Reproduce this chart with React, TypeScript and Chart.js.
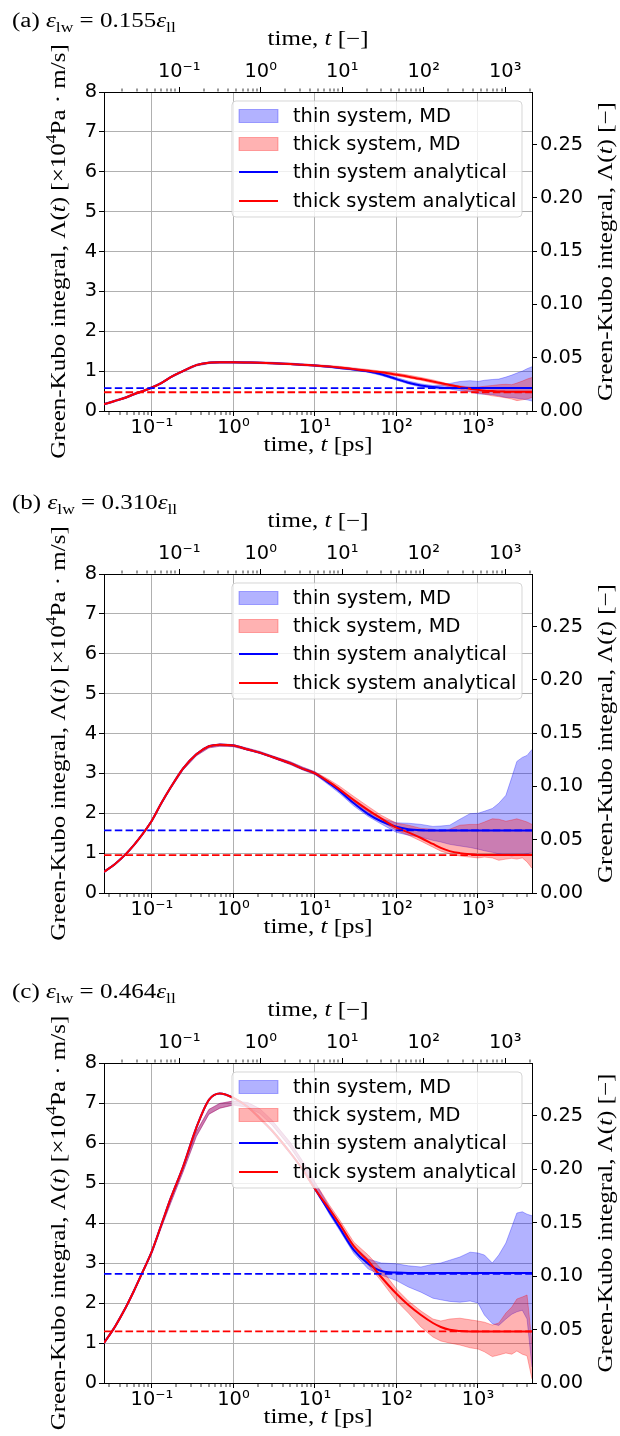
import React, { useEffect, useRef } from "react";
import { Chart, registerables } from "chart.js";

Chart.register(...registerables);

// ---------------- data ----------------
// common sampling times [ps]
const TIME = [
  0.0258, 0.035, 0.048, 0.06, 0.075, 0.1, 0.13, 0.17, 0.24, 0.35, 0.5, 0.68, 1, 1.5, 2.1, 3, 5, 7, 10, 15, 20,
  30, 45, 65, 100, 140, 200, 280, 350, 450, 600, 800, 1000, 1200, 1500, 1800, 2200, 2600, 3000, 3500, 4000, 4600,
];
const X_MIN = 0.0258;
const X_MAX = 4600;
const TAU_PS = 2.16; // LJ time unit in ps (top axis)
const RIGHT_MAX = 8 / 26.72; // dimensionless value at top of left axis
const Y_TICKS = [0, 1, 2, 3, 4, 5, 6, 7, 8];
const RIGHT_TICKS = [0, 0.05, 0.1, 0.15, 0.2, 0.25];

const PANEL_LABELS = ["(a)", "(b)", "(c)"];
const EPS_VALUES = ["0.155", "0.310", "0.464"];
const LEGEND_LABELS = ["thin system, MD", "thick system, MD", "thin system analytical", "thick system analytical"];

// panel (a)
const A_THIN_FIT = [0.17, 0.25, 0.34, 0.42, 0.49, 0.59, 0.7, 0.85, 1.0, 1.15, 1.21, 1.22, 1.22, 1.215, 1.21, 1.2, 1.18, 1.16, 1.14, 1.11, 1.08, 1.04, 0.99, 0.92, 0.8, 0.71, 0.64, 0.6, 0.585, 0.578, 0.576, 0.575, 0.575, 0.575, 0.575, 0.575, 0.575, 0.575, 0.575, 0.575, 0.575, 0.575];
const A_THICK_FIT = [0.17, 0.25, 0.34, 0.42, 0.49, 0.59, 0.7, 0.85, 1.0, 1.15, 1.21, 1.22, 1.22, 1.215, 1.21, 1.2, 1.18, 1.16, 1.14, 1.115, 1.09, 1.05, 1.01, 0.97, 0.91, 0.86, 0.8, 0.74, 0.7, 0.65, 0.6, 0.56, 0.53, 0.51, 0.5, 0.49, 0.485, 0.482, 0.48, 0.48, 0.48, 0.48];
const A_THIN_HI = [0.19, 0.27, 0.36, 0.44, 0.51, 0.61, 0.72, 0.87, 1.02, 1.17, 1.23, 1.24, 1.24, 1.235, 1.23, 1.22, 1.2, 1.18, 1.16, 1.13, 1.1, 1.06, 1.01, 0.95, 0.84, 0.75, 0.68, 0.64, 0.65, 0.69, 0.74, 0.76, 0.74, 0.77, 0.79, 0.8, 0.85, 0.9, 0.95, 1.0, 1.06, 1.11];
const A_THIN_LO = [0.16, 0.24, 0.32, 0.4, 0.47, 0.57, 0.68, 0.83, 0.98, 1.13, 1.19, 1.2, 1.2, 1.195, 1.19, 1.18, 1.16, 1.14, 1.12, 1.09, 1.06, 1.02, 0.97, 0.89, 0.77, 0.68, 0.6, 0.56, 0.55, 0.55, 0.51, 0.48, 0.43, 0.42, 0.41, 0.38, 0.34, 0.34, 0.32, 0.3, 0.28, 0.25];
const A_THICK_HI = [0.19, 0.27, 0.36, 0.44, 0.51, 0.61, 0.72, 0.87, 1.02, 1.17, 1.23, 1.24, 1.24, 1.235, 1.23, 1.22, 1.2, 1.18, 1.16, 1.14, 1.12, 1.08, 1.04, 1.0, 0.95, 0.9, 0.84, 0.78, 0.73, 0.67, 0.63, 0.6, 0.6, 0.62, 0.64, 0.66, 0.67, 0.66, 0.7, 0.75, 0.8, 0.84];
const A_THICK_LO = [0.16, 0.24, 0.32, 0.4, 0.47, 0.57, 0.68, 0.83, 0.98, 1.13, 1.19, 1.2, 1.2, 1.195, 1.19, 1.18, 1.16, 1.14, 1.12, 1.1, 1.07, 1.03, 0.99, 0.94, 0.88, 0.83, 0.77, 0.7, 0.66, 0.6, 0.55, 0.48, 0.45, 0.42, 0.38, 0.36, 0.33, 0.3, 0.26, 0.28, 0.3, 0.34];
const A_PLATEAU_THIN = 0.575;
const A_PLATEAU_THICK = 0.47;

// panel (b)
const B_THIN_FIT = [0.53, 0.72, 0.98, 1.2, 1.45, 1.82, 2.25, 2.65, 3.12, 3.48, 3.68, 3.72, 3.7, 3.6, 3.52, 3.41, 3.25, 3.12, 3.0, 2.75, 2.56, 2.25, 1.98, 1.8, 1.66, 1.6, 1.575, 1.57, 1.57, 1.57, 1.57, 1.57, 1.57, 1.57, 1.57, 1.57, 1.57, 1.57, 1.57, 1.57, 1.57, 1.57];
const B_THICK_FIT = [0.53, 0.72, 0.98, 1.2, 1.45, 1.82, 2.25, 2.65, 3.12, 3.48, 3.68, 3.72, 3.7, 3.6, 3.52, 3.41, 3.25, 3.12, 3.0, 2.78, 2.6, 2.33, 2.08, 1.87, 1.64, 1.52, 1.38, 1.23, 1.13, 1.05, 1.0, 0.97, 0.955, 0.95, 0.95, 0.95, 0.95, 0.95, 0.95, 0.95, 0.95, 0.95];
const B_THIN_HI = [0.55, 0.74, 1.0, 1.22, 1.47, 1.84, 2.27, 2.67, 3.14, 3.5, 3.7, 3.74, 3.72, 3.63, 3.55, 3.44, 3.29, 3.16, 3.04, 2.8, 2.62, 2.32, 2.06, 1.87, 1.76, 1.75, 1.72, 1.67, 1.68, 1.7, 1.85, 1.99, 2.0, 2.05, 2.12, 2.25, 2.45, 2.9, 3.3, 3.4, 3.45, 3.6];
const B_THIN_LO = [0.51, 0.7, 0.96, 1.18, 1.43, 1.8, 2.22, 2.62, 3.08, 3.44, 3.64, 3.68, 3.67, 3.58, 3.5, 3.39, 3.22, 3.09, 2.97, 2.7, 2.5, 2.18, 1.92, 1.73, 1.52, 1.45, 1.4, 1.32, 1.28, 1.22, 1.18, 1.14, 1.1, 1.06, 1.02, 0.98, 0.95, 0.93, 0.95, 0.96, 0.98, 1.02];
const B_THICK_HI = [0.55, 0.74, 1.0, 1.22, 1.47, 1.84, 2.27, 2.67, 3.14, 3.5, 3.7, 3.74, 3.72, 3.63, 3.55, 3.44, 3.29, 3.16, 3.04, 2.84, 2.68, 2.42, 2.17, 1.95, 1.75, 1.7, 1.62, 1.6, 1.55, 1.6, 1.7, 1.72, 1.72, 1.78, 1.86, 1.85, 1.8, 1.83, 1.86, 1.82, 1.78, 1.72];
const B_THICK_LO = [0.51, 0.7, 0.96, 1.18, 1.43, 1.8, 2.22, 2.62, 3.08, 3.44, 3.64, 3.68, 3.67, 3.58, 3.5, 3.39, 3.22, 3.09, 2.97, 2.74, 2.56, 2.28, 2.01, 1.8, 1.57, 1.45, 1.3, 1.15, 1.05, 0.98, 0.93, 0.9, 0.88, 0.9, 0.88, 0.82, 0.85, 0.87, 0.85, 0.88, 0.78, 0.62];
const B_PLATEAU_THIN = 1.57;
const B_PLATEAU_THICK = 0.95;

// panel (c)
const C_THIN_FIT = [1.0, 1.4, 1.9, 2.3, 2.73, 3.3, 3.95, 4.62, 5.4, 6.38, 7.08, 7.24, 7.13, 6.9, 6.62, 6.3, 5.75, 5.35, 4.85, 4.28, 3.88, 3.32, 2.98, 2.8, 2.76, 2.75, 2.75, 2.75, 2.75, 2.75, 2.75, 2.75, 2.75, 2.75, 2.75, 2.75, 2.75, 2.75, 2.75, 2.75, 2.75, 2.75];
const C_THICK_FIT = [1.0, 1.4, 1.9, 2.3, 2.73, 3.3, 3.95, 4.62, 5.4, 6.38, 7.08, 7.24, 7.13, 6.9, 6.62, 6.3, 5.75, 5.35, 4.85, 4.35, 3.98, 3.42, 3.05, 2.65, 2.23, 1.95, 1.7, 1.5, 1.4, 1.33, 1.3, 1.29, 1.29, 1.29, 1.29, 1.29, 1.29, 1.29, 1.29, 1.29, 1.29, 1.29];
const C_THIN_HI = [1.03, 1.43, 1.93, 2.33, 2.76, 3.32, 3.96, 4.6, 5.37, 6.28, 6.84, 6.99, 7.05, 7.01, 6.86, 6.56, 6.01, 5.56, 5.02, 4.4, 4.0, 3.42, 3.1, 3.0, 2.98, 2.93, 2.9, 2.97, 3.0, 3.07, 3.15, 3.27, 3.25, 3.2, 3.0, 3.2, 3.5, 3.9, 4.25, 4.28, 4.22, 4.18];
const C_THIN_LO = [0.97, 1.37, 1.87, 2.27, 2.7, 3.24, 3.88, 4.5, 5.27, 6.16, 6.72, 6.87, 6.95, 6.89, 6.74, 6.44, 5.89, 5.44, 4.88, 4.22, 3.82, 3.24, 2.85, 2.7, 2.56, 2.4, 2.27, 2.12, 2.08, 2.04, 2.02, 2.05, 2.0, 1.7, 1.48, 1.44, 1.6, 1.72, 1.78, 1.82, 1.6, 0.4];
const C_THICK_HI = [1.03, 1.43, 1.93, 2.33, 2.76, 3.32, 3.96, 4.6, 5.37, 6.28, 6.84, 6.99, 7.05, 7.01, 6.86, 6.56, 6.01, 5.56, 5.02, 4.45, 4.08, 3.52, 3.2, 2.85, 2.35, 2.05, 1.8, 1.6, 1.55, 1.6, 1.62, 1.58, 1.55, 1.52, 1.45, 1.5, 1.75, 1.9, 2.1, 2.15, 2.2, 1.0];
const C_THICK_LO = [0.97, 1.37, 1.87, 2.27, 2.7, 3.24, 3.88, 4.5, 5.27, 6.16, 6.72, 6.87, 6.95, 6.89, 6.74, 6.44, 5.89, 5.44, 4.88, 4.28, 3.9, 3.35, 2.95, 2.55, 2.05, 1.75, 1.4, 1.15, 1.05, 1.0, 0.95, 0.88, 0.85, 0.78, 0.66, 0.7, 0.75, 0.72, 0.8, 0.72, 0.68, 0.1];
const C_PLATEAU_THIN = 2.73;
const C_PLATEAU_THICK = 1.29;

const SERIES = [
  { thinFit: A_THIN_FIT, thickFit: A_THICK_FIT, thinHi: A_THIN_HI, thinLo: A_THIN_LO, thickHi: A_THICK_HI, thickLo: A_THICK_LO, thinPlateau: A_PLATEAU_THIN, thickPlateau: A_PLATEAU_THICK },
  { thinFit: B_THIN_FIT, thickFit: B_THICK_FIT, thinHi: B_THIN_HI, thinLo: B_THIN_LO, thickHi: B_THICK_HI, thickLo: B_THICK_LO, thinPlateau: B_PLATEAU_THIN, thickPlateau: B_PLATEAU_THICK },
  { thinFit: C_THIN_FIT, thickFit: C_THICK_FIT, thinHi: C_THIN_HI, thinLo: C_THIN_LO, thickHi: C_THICK_HI, thickLo: C_THICK_LO, thinPlateau: C_PLATEAU_THIN, thickPlateau: C_PLATEAU_THICK },
];

// ---------------- layout & style ----------------
const LAYOUT = [
  { top: 0, height: 482, plotH: 319 },
  { top: 482, height: 489, plotH: 319 },
  { top: 971, height: 465, plotH: 320 },
];
const W = 620;
const PLOT_LEFT = 104;
const PLOT_RIGHT = 532;
const PLOT_TOP = 92;

const SANS = '"DejaVu Sans", sans-serif';
const SERIF = '"Liberation Serif", "Times New Roman", serif';
const TICK_SIZE = 19.4;
const LABEL_SIZE = 20.5;
const SERIF_STRETCH = 1.22; // widen Times-like glyphs towards Computer Modern proportions
const GRID = "#b0b0b0";
const BLUE = "#0000ff";
const RED = "#ff0000";
const BLUE_BAND = "rgba(0,0,255,0.3)";
const RED_BAND = "rgba(255,0,0,0.3)";

const SUP: Record<string, string> = { "-": "\u207B", "0": "\u2070", "1": "\u00B9", "2": "\u00B2", "3": "\u00B3", "4": "\u2074", "5": "\u2075" };

function isDecade(v: number) {
  const e = Math.round(Math.log10(v));
  return Math.abs(v / Math.pow(10, e) - 1) < 1e-6;
}
function decadeLabel(v: number) {
  const e = String(Math.round(Math.log10(v)));
  return "10" + e.split("").map((c) => SUP[c] || c).join("");
}
function logTicks(min: number, max: number) {
  const out: { value: number }[] = [];
  for (let e = -3; e <= 5; e++) {
    for (let k = 1; k <= 9; k++) {
      const v = k * Math.pow(10, e);
      if (v >= min && v <= max) out.push({ value: v });
    }
  }
  return out;
}

type Seg = { t: string; it?: boolean; sup?: boolean; sub?: boolean };
function segFont(s: Seg, size: number) {
  const sz = s.sup || s.sub ? size * 0.7 : size;
  return `${s.it ? "italic " : ""}${sz}px ${SERIF}`;
}
function drawRich(ctx: CanvasRenderingContext2D, segs: Seg[], x: number, y: number, align: "left" | "center", size: number) {
  let w = 0;
  for (const s of segs) {
    ctx.font = segFont(s, size);
    w += ctx.measureText(s.t).width;
  }
  const x0 = align === "center" ? x - (w * SERIF_STRETCH) / 2 : x;
  ctx.save();
  ctx.translate(x0, y);
  ctx.scale(SERIF_STRETCH, 1);
  ctx.textAlign = "left";
  ctx.textBaseline = "alphabetic";
  ctx.fillStyle = "#000";
  let cx = 0;
  for (const s of segs) {
    ctx.font = segFont(s, size);
    const dy = s.sup ? -size * 0.42 : s.sub ? size * 0.22 : 0;
    ctx.fillText(s.t, cx, dy);
    cx += ctx.measureText(s.t).width;
  }
  ctx.restore();
}

const LEFT_LABEL: Seg[] = [{ t: "Green-Kubo integral, \u039B(" }, { t: "t", it: true }, { t: ") [\u00D710" }, { t: "4", sup: true }, { t: "Pa \u00B7 m/s]" }];
const RIGHT_LABEL: Seg[] = [{ t: "Green-Kubo integral, \u039B(" }, { t: "t", it: true }, { t: ") [\u2212]" }];
const TOP_LABEL: Seg[] = [{ t: "time, " }, { t: "t", it: true }, { t: " [\u2212]" }];
const BOTTOM_LABEL: Seg[] = [{ t: "time, " }, { t: "t", it: true }, { t: " [ps]" }];

function roundRect(ctx: CanvasRenderingContext2D, x: number, y: number, w: number, h: number, r: number) {
  ctx.beginPath();
  ctx.moveTo(x + r, y);
  ctx.lineTo(x + w - r, y);
  ctx.arcTo(x + w, y, x + w, y + r, r);
  ctx.lineTo(x + w, y + h - r);
  ctx.arcTo(x + w, y + h, x + w - r, y + h, r);
  ctx.lineTo(x + r, y + h);
  ctx.arcTo(x, y + h, x, y + h - r, r);
  ctx.lineTo(x, y + r);
  ctx.arcTo(x, y, x + r, y, r);
  ctx.closePath();
}

const panelTextPlugin = {
  id: "panelText",
  afterDraw(chart: any, _args: any, opts: any) {
    const ctx: CanvasRenderingContext2D = chart.ctx;
    const ca = chart.chartArea;
    const idx: number = opts.index;
    const midX = (ca.left + ca.right) / 2;
    const midY = (ca.top + ca.bottom) / 2;
    ctx.save();
    // panel title
    const title: Seg[] = [
      { t: PANEL_LABELS[idx] + " " },
      { t: "\u03B5", it: true },
      { t: "lw", sub: true },
      { t: " = " + EPS_VALUES[idx] },
      { t: "\u03B5", it: true },
      { t: "ll", sub: true },
    ];
    drawRich(ctx, title, 12, ca.top - 65, "left", LABEL_SIZE);
    drawRich(ctx, TOP_LABEL, midX, ca.top - 47, "center", LABEL_SIZE);
    drawRich(ctx, BOTTOM_LABEL, midX, ca.bottom + 40, "center", LABEL_SIZE);
    ctx.save();
    ctx.translate(65, midY);
    ctx.rotate(-Math.PI / 2);
    drawRich(ctx, LEFT_LABEL, 0, 0, "center", LABEL_SIZE);
    ctx.restore();
    ctx.save();
    ctx.translate(612, midY);
    ctx.rotate(-Math.PI / 2);
    drawRich(ctx, RIGHT_LABEL, 0, 0, "center", LABEL_SIZE);
    ctx.restore();

    // legend
    const lx = 232;
    const ly = ca.top + 9;
    const lw = ca.right - 10 - lx;
    const lh = 116;
    roundRect(ctx, lx, ly, lw, lh, 4);
    ctx.fillStyle = "rgba(255,255,255,0.8)";
    ctx.fill();
    ctx.strokeStyle = "rgba(204,204,204,0.8)";
    ctx.lineWidth = 1;
    ctx.stroke();
    const rows = [24, 52, 80, 109];
    const hx = 239;
    const hw = 39;
    ctx.font = `${TICK_SIZE}px ${SANS}`;
    ctx.textBaseline = "middle";
    ctx.textAlign = "left";
    LEGEND_LABELS.forEach((lab, i) => {
      const cy = ca.top + rows[i];
      if (i < 2) {
        const c = i === 0 ? BLUE_BAND : RED_BAND;
        ctx.fillStyle = c;
        ctx.fillRect(hx, cy - 6.5, hw, 13);
        ctx.strokeStyle = c;
        ctx.lineWidth = 1;
        ctx.strokeRect(hx, cy - 6.5, hw, 13);
      } else {
        ctx.strokeStyle = i === 2 ? BLUE : RED;
        ctx.lineWidth = 2;
        ctx.beginPath();
        ctx.moveTo(hx, cy);
        ctx.lineTo(hx + hw, cy);
        ctx.stroke();
      }
      ctx.fillStyle = "#000";
      ctx.fillText(lab, hx + hw + 15, cy + 1);
    });
    ctx.restore();
  },
};

function logAxis(position: "top" | "bottom", min: number, max: number, height: number) {
  const major = (c: any) => !!(c && c.tick && isDecade(c.tick.value));
  return {
    type: "logarithmic",
    position,
    axis: "x",
    min,
    max,
    bounds: "data",
    afterBuildTicks: (s: any) => {
      s.ticks = logTicks(min, max);
    },
    afterFit: (s: any) => {
      s.height = height;
    },
    ticks: {
      autoSkip: false,
      maxRotation: 0,
      minRotation: 0,
      padding: position === "top" ? 3 : 0,
      color: "#000",
      font: { family: SANS, size: TICK_SIZE },
      callback: (v: number) => (isDecade(v) ? decadeLabel(v) : ""),
    },
    grid: {
      drawOnChartArea: position === "bottom",
      color: GRID,
      lineWidth: (c: any) => (major(c) ? 1 : 0),
      tickColor: "#000",
      tickLength: 5,
      tickWidth: (c: any) => (major(c) ? 1 : 0.8),
      tickBorderDash: (c: any) => (major(c) ? [] : position === "bottom" ? [3, 10] : [0, 1.5, 3, 10]),
    },
    border: { display: true, color: "#000", width: 1 },
  };
}

function buildConfig(idx: number) {
  const s = SERIES[idx];
  const lay = LAYOUT[idx];
  const pts = (ys: number[]) => TIME.map((t, i) => ({ x: t, y: ys[i] }));
  const flat = (v: number) => [
    { x: X_MIN, y: v },
    { x: X_MAX, y: v },
  ];
  const base = { xAxisID: "x", yAxisID: "y", pointRadius: 0, pointHoverRadius: 0, tension: 0 };
  const datasets: any[] = [
    { ...base, label: LEGEND_LABELS[0], data: pts(s.thinHi), borderColor: BLUE_BAND, backgroundColor: BLUE_BAND, borderWidth: 1, fill: 1, order: 8 },
    { ...base, label: "thin lower", data: pts(s.thinLo), borderColor: BLUE_BAND, borderWidth: 1, fill: false, order: 8 },
    { ...base, label: LEGEND_LABELS[1], data: pts(s.thickHi), borderColor: RED_BAND, backgroundColor: RED_BAND, borderWidth: 1, fill: 3, order: 6 },
    { ...base, label: "thick lower", data: pts(s.thickLo), borderColor: RED_BAND, borderWidth: 1, fill: false, order: 6 },
    { ...base, label: LEGEND_LABELS[2], data: pts(s.thinFit), borderColor: BLUE, borderWidth: 2, fill: false, cubicInterpolationMode: "monotone", order: 4 },
    { ...base, label: LEGEND_LABELS[3], data: pts(s.thickFit), borderColor: RED, borderWidth: 2, fill: false, cubicInterpolationMode: "monotone", order: 3 },
    { ...base, label: "thin plateau", data: flat(s.thinPlateau), borderColor: BLUE, borderWidth: 1.8, borderDash: [7.5, 3.3], fill: false, order: 2 },
    { ...base, label: "thick plateau", data: flat(s.thickPlateau), borderColor: RED, borderWidth: 1.8, borderDash: [7.5, 3.3], fill: false, order: 1 },
  ];
  const bottomH = lay.height - PLOT_TOP - lay.plotH;
  return {
    type: "line",
    data: { datasets },
    plugins: [panelTextPlugin],
    options: {
      responsive: false,
      maintainAspectRatio: false,
      animation: false,
      devicePixelRatio: 1,
      events: [],
      layout: { padding: 0 },
      plugins: {
        legend: { display: false },
        tooltip: { enabled: false },
        title: { display: false },
        panelText: { index: idx },
      },
      scales: {
        x: logAxis("bottom", X_MIN, X_MAX, bottomH),
        xTop: logAxis("top", X_MIN / TAU_PS, X_MAX / TAU_PS, PLOT_TOP),
        y: {
          type: "linear",
          position: "left",
          axis: "y",
          min: 0,
          max: 8,
          bounds: "data",
          afterBuildTicks: (sc: any) => {
            sc.ticks = Y_TICKS.map((v) => ({ value: v }));
          },
          afterFit: (sc: any) => {
            sc.width = PLOT_LEFT;
          },
          ticks: { padding: 2, color: "#000", font: { family: SANS, size: TICK_SIZE }, callback: (v: number) => String(v) },
          grid: { color: GRID, lineWidth: 1, tickColor: "#000", tickLength: 5, tickWidth: 1 },
          border: { display: true, color: "#000", width: 1 },
        },
        yRight: {
          type: "linear",
          position: "right",
          axis: "y",
          min: 0,
          max: RIGHT_MAX,
          bounds: "data",
          afterBuildTicks: (sc: any) => {
            sc.ticks = RIGHT_TICKS.map((v) => ({ value: v }));
          },
          afterFit: (sc: any) => {
            sc.width = W - PLOT_RIGHT;
          },
          ticks: { padding: 3, color: "#000", font: { family: SANS, size: TICK_SIZE }, callback: (v: number) => v.toFixed(2) },
          grid: { drawOnChartArea: false, color: GRID, tickColor: "#000", tickLength: 5, tickWidth: 1 },
          border: { display: true, color: "#000", width: 1 },
        },
      },
    },
  };
}

function Panel({ idx }: { idx: number }) {
  const ref = useRef<HTMLCanvasElement | null>(null);
  const lay = LAYOUT[idx];
  useEffect(() => {
    if (!ref.current) return;
    const chart = new Chart(ref.current, buildConfig(idx) as any);
    return () => chart.destroy();
  }, [idx]);
  return (
    <canvas
      ref={ref}
      width={W}
      height={lay.height}
      style={{ position: "absolute", left: 0, top: lay.top, width: W, height: lay.height }}
    />
  );
}

export default function App() {
  return (
    <div style={{ position: "absolute", left: 0, top: 0, width: W, height: 1436, background: "#fff", overflow: "hidden" }}>
      {[0, 1, 2].map((i) => (
        <Panel key={i} idx={i} />
      ))}
    </div>
  );
}
